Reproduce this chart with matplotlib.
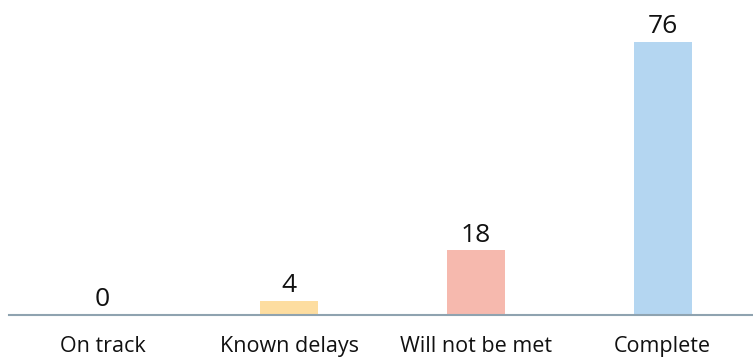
import matplotlib.pyplot as plt

categories = ['On track', 'Known delays', 'Will not be met', 'Complete']
values = [0, 4, 18, 76]
colors = ['#FDDDA0', '#FDDDA0', '#F6B9AE', '#B4D6F1']

plt.rcParams['font.family'] = ['Open Sans', 'DejaVu Sans']

fig = plt.figure(figsize=(7.53, 3.58), dpi=100)
ax = fig.add_axes([9 / 753, 43 / 358, 747 / 753, 315 / 358])

x = range(len(categories))
ax.bar(x, values, width=0.31, color=colors, zorder=2)

ax.set_xlim(-0.5, 3.5)
ax.set_ylim(0, 315 / 3.59)

# value labels above each bar
for i, v in enumerate(values):
    ax.annotate(str(v), (i, v), xytext=(0, 2), textcoords='offset points',
                ha='center', va='bottom', fontsize=19, color='#111111')

ax.set_xticks(list(x))
ax.set_xticklabels(categories, fontsize=15.5, color='#111111')
ax.tick_params(axis='x', length=0, pad=15)
ax.set_yticks([])

for side in ['top', 'right', 'left']:
    ax.spines[side].set_visible(False)
ax.spines['bottom'].set_color('#8FA3B0')
ax.spines['bottom'].set_linewidth(1.5)
ax.spines['bottom'].set_zorder(3)

plt.savefig('out.png', dpi=100)
plt.close()
